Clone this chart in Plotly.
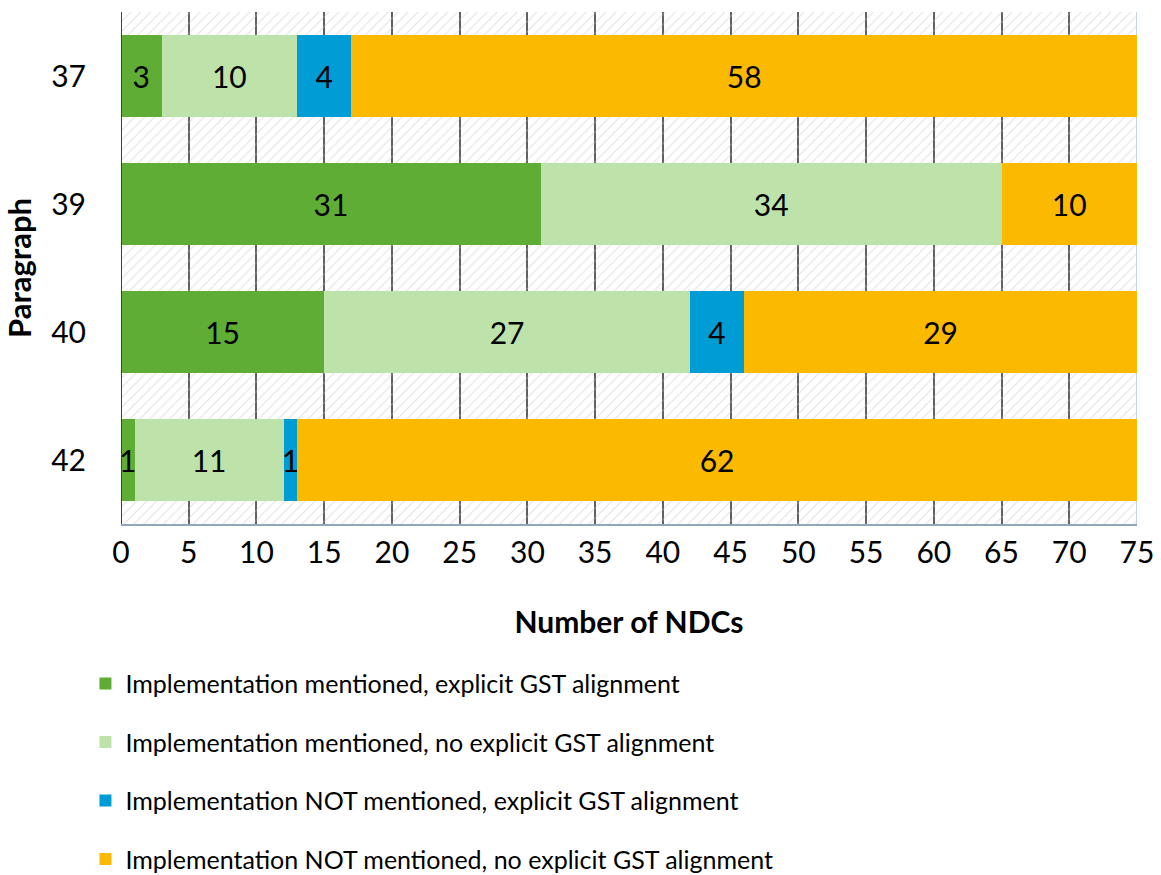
import plotly.graph_objects as go

# Paragraphs (rows, top to bottom) and NDC counts per category
paragraphs = ["37", "39", "40", "42"]
impl_explicit = [3, 31, 15, 1]
impl_no_explicit = [10, 34, 27, 11]
not_impl_explicit = [4, 0, 4, 1]
not_impl_no_explicit = [58, 10, 29, 62]

series_names = [
    "Implementation mentioned, explicit GST alignment",
    "Implementation mentioned, no explicit GST alignment",
    "Implementation NOT mentioned, explicit GST alignment",
    "Implementation NOT mentioned, no explicit GST alignment",
]
series_values = [impl_explicit, impl_no_explicit, not_impl_explicit, not_impl_no_explicit]
series_colors = ["#5FAD35", "#BDE3AA", "#009CD5", "#FBBA00"]

x_ticks = list(range(0, 80, 5))
x_max = 75

FONT = "Lato, 'Open Sans', sans-serif"
TICK_SIZE = 30
pos = list(range(len(paragraphs)))
y_range = [len(paragraphs) - 0.5, -0.5]

fig = go.Figure()

# Hatched plot-area background (main subplot, drawn beneath the bars)
fig.add_trace(go.Scatter(
    x=[0, x_max, x_max, 0, 0],
    y=[-0.5, -0.5, len(paragraphs) - 0.5, len(paragraphs) - 0.5, -0.5],
    mode="lines", line=dict(width=0),
    fill="toself", fillcolor="rgba(0,0,0,0)",
    fillpattern=dict(shape="/", fgcolor="#C4C4C4", bgcolor="rgba(0,0,0,0)",
                     size=7, solidity=0.15),
    hoverinfo="skip", showlegend=False,
))

# Stacked bars on an overlaying axis so they sit above the hatching
for i, (name, vals, col) in enumerate(zip(series_names, series_values, series_colors)):
    fig.add_trace(go.Bar(
        name=name, y=pos, x=vals, orientation="h", yaxis="y2",
        marker=dict(color=col, line=dict(width=0)),
        text=[str(v) if v else "" for v in vals],
        textposition="inside", insidetextanchor="middle",
        textfont=dict(family=FONT, size=TICK_SIZE, color="black"),
        width=0.64, legendgroup=f"g{i}",
    ))

fig.update_layout(
    barmode="stack",
    width=1161, height=875,
    margin=dict(l=121, r=24, t=12, b=351, autoexpand=False),
    plot_bgcolor="white", paper_bgcolor="white",
    font=dict(family=FONT, color="black"),
    uniformtext=dict(mode="show", minsize=TICK_SIZE),
    legend=dict(
        orientation="v", x=-0.035, xanchor="left", y=-0.267, yanchor="top",
        font=dict(family=FONT, size=25, color="black"),
        tracegroupgap=23, bgcolor="rgba(0,0,0,0)",
    ),
    showlegend=True,
    yaxis2=dict(
        overlaying="y", range=y_range, showgrid=False, zeroline=False,
        showticklabels=False, showline=False, automargin=False,
    ),
)

fig.layout.xaxis.update(
    range=[0, x_max], tickvals=x_ticks, automargin=False,
    showgrid=True, gridcolor="#606060", gridwidth=1.5,
    zeroline=False,
    showline=True, linecolor="#8FA8C0", linewidth=1.5, mirror=False,
    tickfont=dict(family=FONT, size=TICK_SIZE, color="black"),
    ticklabelstandoff=1,
    title=dict(text="<b>Number of NDCs</b>", font=dict(family=FONT, size=30, color="black"),
               standoff=44),
)

fig.layout.yaxis.update(
    range=y_range, tickvals=pos, ticktext=paragraphs, automargin=False,
    showgrid=False, zeroline=False, showline=False,
    tickfont=dict(family=FONT, size=TICK_SIZE, color="black"),
    ticklabelstandoff=34,
    title=dict(text="<b>Paragraph</b>", font=dict(family=FONT, size=31, color="black"),
               standoff=12),
)

# Left axis line at x = 0 and right border at x = 75
fig.add_vline(x=0, line=dict(color="#404040", width=2), layer="above")
fig.add_vline(x=x_max, line=dict(color="#8FA8C0", width=1), layer="below")

fig.write_html("out.html")
